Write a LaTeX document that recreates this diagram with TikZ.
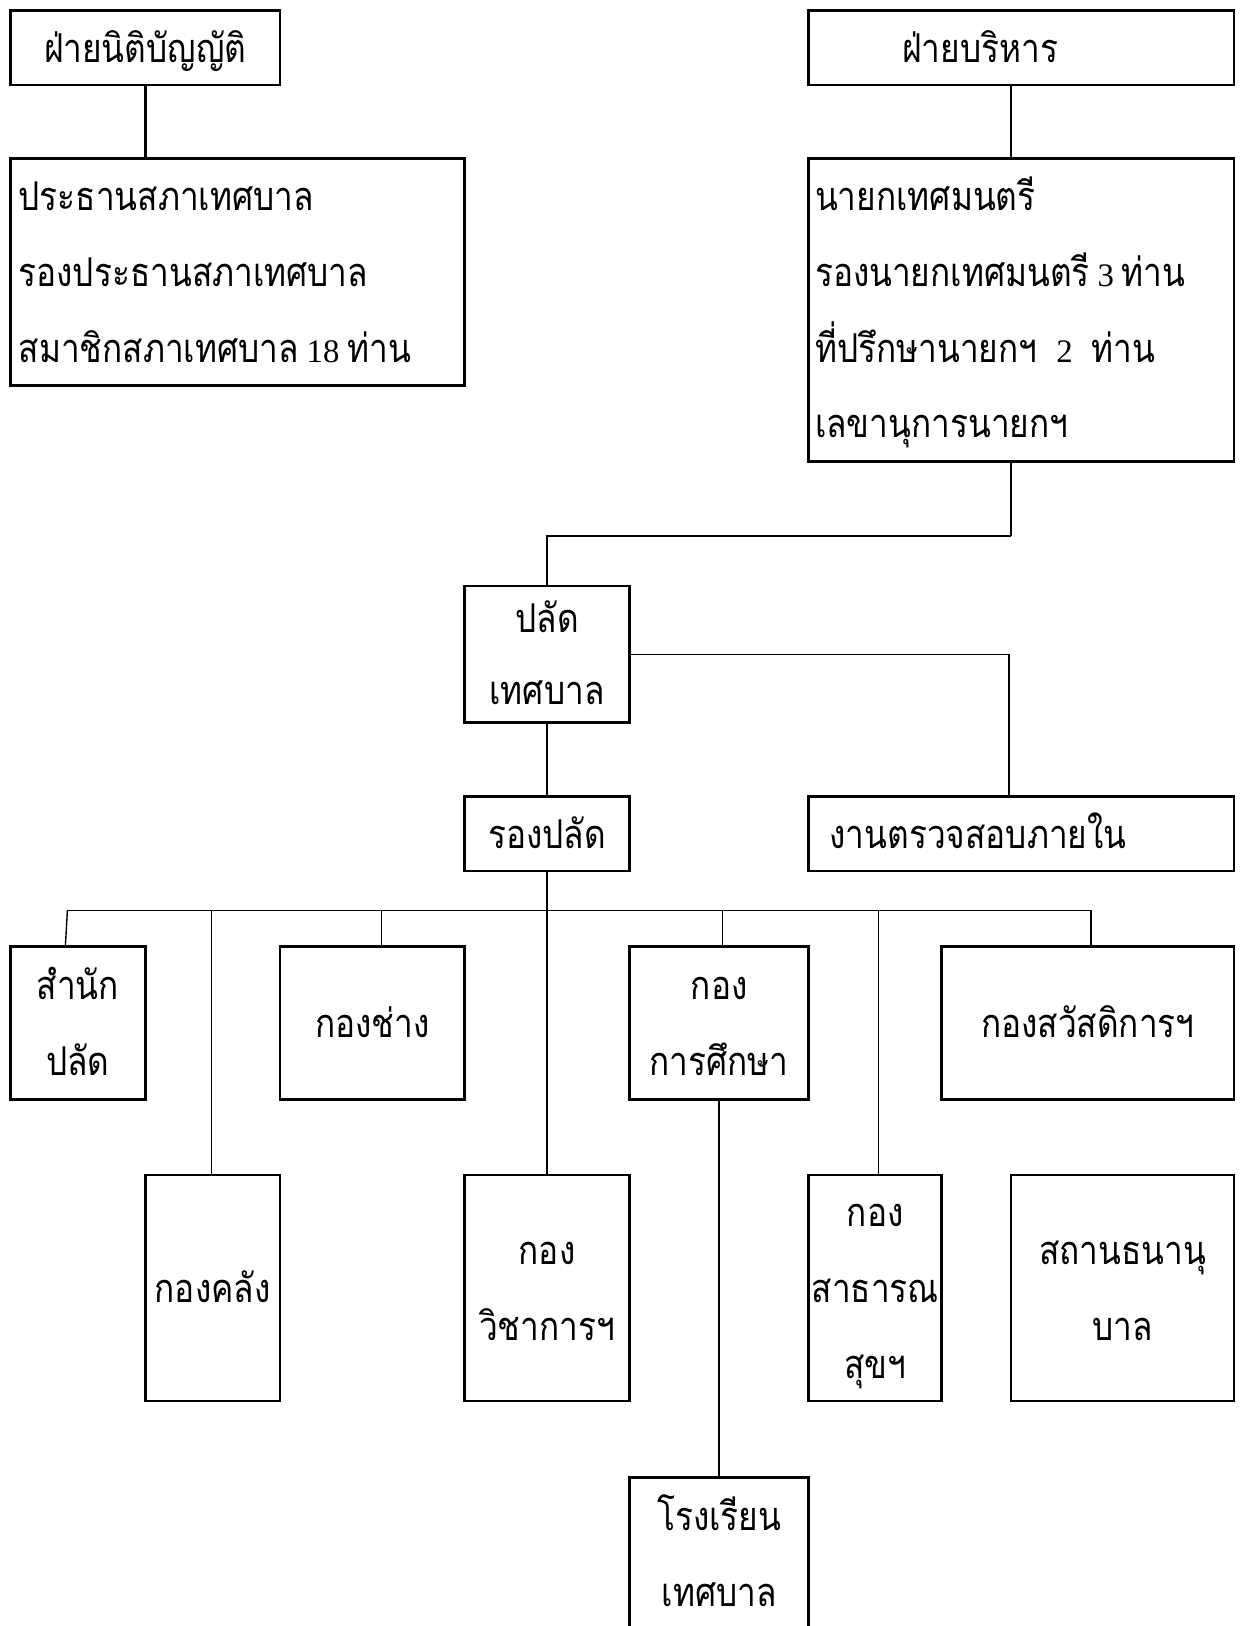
\documentclass[tikz,border=0pt]{standalone}
\usepackage{fontspec}
\newfontfamily\thai[Script=Thai,FakeStretch=0.84]{Loma}
\newfontfamily\latn{Liberation Serif}
\newcommand\ts{\rule[-8.4pt]{0pt}{33.4pt}}
\newcommand\dg[1]{{\latn\fontsize{19}{43.8}\selectfont #1}}
\newcommand\thaisize{\thai\fontsize{23}{43.8}\selectfont}
\lineskiplimit=-100pt
\tikzset{
  box/.style={draw, line width=1.6pt, inner sep=0pt, align=center, font=\thaisize},
  sz/.style 2 args={minimum width=#1*0.6pt, minimum height=#2*0.6pt},
  thickline/.style={line width=1.6pt},
  thinline/.style={line width=0.8pt}
}
\begin{document}
\begin{tikzpicture}[x=0.6pt,y=-0.6pt]
\useasboundingbox (0,0) rectangle (1195,1568);
% top level
\node[box, sz={260}{72}] (A) at (140,46) {\ts ฝ่ายนิติบัญญัติ};
\node[box, sz={438}{219}, align=left, text width=253.2pt, inner xsep=4.8pt] (B) at (229,262.5)
  {\ts ประธานสภาเทศบาล\\\ts รองประธานสภาเทศบาล\\\ts สมาชิกสภาเทศบาล\hspace{4.5pt}\dg{18}\hspace{4.5pt}ท่าน};
\node[box, sz={410}{72}, align=left, text width=138pt, inner xsep=54pt] (C) at (985,46) {\ts ฝ่ายบริหาร};
\node[box, sz={410}{292}, align=left, text width=238.8pt, inner xsep=3.6pt] (D) at (985,299)
  {\ts นายกเทศมนตรี\\\ts รองนายกเทศมนตรี\hspace{4.5pt}\dg{3}\hspace{4.5pt}ท่าน\\\ts ที่ปรึกษานายกฯ\hspace{11pt}\dg{2}\hspace{11pt}ท่าน\\\ts เลขานุการนายกฯ};
\node[box, sz={159}{132}] (E) at (527.5,631) {\ts ปลัด\\[-1.8pt]\ts เทศบาล};
\node[box, sz={410}{72}, align=left, text width=222pt, inner xsep=12pt] (F) at (985,804) {\ts งานตรวจสอบภายใน};
\node[box, sz={159}{72}] (G) at (527.5,804) {\ts รองปลัด};
% divisions
\node[box, sz={130}{147}] (H1) at (75,986.5) {\ts สำนัก\\\ts ปลัด};
\node[box, sz={130}{218}] (H2) at (205,1242) {\ts กองคลัง};
\node[box, sz={178}{147}] (H3) at (359,986.5) {\ts กองช่าง};
\node[box, sz={159}{218}] (H4) at (527.5,1242) {\ts กอง\\\ts วิชาการฯ};
\node[box, sz={173}{147}] (H5) at (693.5,986.5) {\ts กอง\\\ts การศึกษา};
\node[box, sz={128}{218}] (H6) at (844,1242) {\ts กอง\\\ts สาธารณ\\\ts สุขฯ};
\node[box, sz={282}{147}] (H7) at (1049,986.5) {\ts กองสวัสดิการฯ};
\node[box, sz={215}{218}] (H8) at (1082.5,1242) {\ts สถานธนานุ\\\ts บาล};
\node[box, sz={173}{147}] (S) at (693.5,1498.5) {\ts โรงเรียน\\\ts เทศบาล};
% connector coordinates
\coordinate (cx) at (975,0);
\coordinate (fx) at (973,0);
\coordinate (j1) at (975,517);
\coordinate (b1) at (65,878);
\coordinate (b2) at (204,878);
\coordinate (b3) at (368,878);
\coordinate (b4) at (527.5,878);
\coordinate (b5) at (697,878);
\coordinate (b6) at (847,878);
\coordinate (b7) at (1052,878);
\coordinate (h1top) at (63,913);
% connectors
\draw[thickline] (A.south) -- (B.north -| A.south);
\draw[thickline] (C.south -| cx) -- (D.north -| cx);
\draw[thickline] (D.south -| cx) -- (j1);
\draw[thinline] (j1) -| (E.north);
\draw[thinline] (E.east) -| (F.north -| fx);
\draw[thinline] (E.south) -- (G.north);
\draw[thinline] (G.south) -- (b4);
\draw[thinline] (b1) -- (b7);
\draw[thinline] (b1) -- (h1top);
\draw[thinline] (b2) -- (b2 |- H2.north);
\draw[thinline] (b3) -- (b3 |- H3.north);
\draw[thinline] (b4) -- (H4.north);
\draw[thinline] (b5) -- (b5 |- H5.north);
\draw[thinline] (b6) -- (b6 |- H6.north);
\draw[thinline] (b7) -- (b7 |- H7.north);
\draw[thinline] (H5.south) -- (S.north);
\end{tikzpicture}
\end{document}
